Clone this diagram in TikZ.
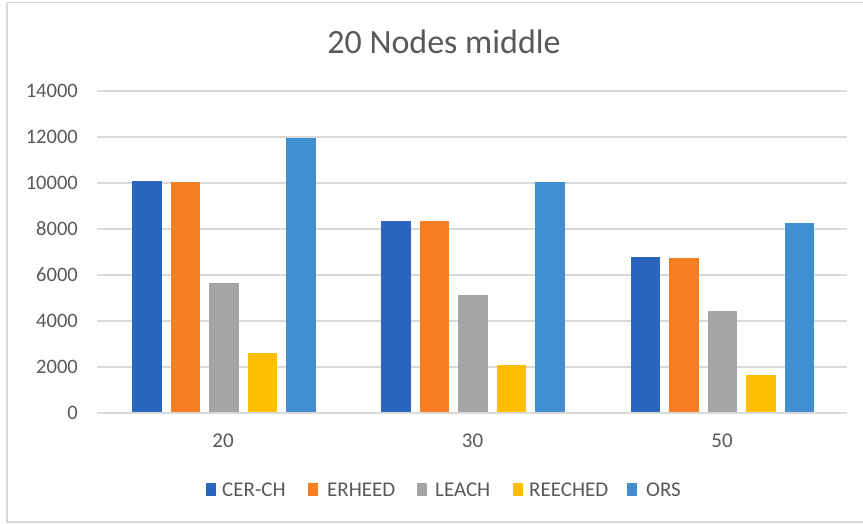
\documentclass[tikz,border=0pt]{standalone}
\usepackage{fontspec}
\setmainfont{Carlito}
\definecolor{cBlue}{HTML}{2A66BE}
\definecolor{cOrange}{HTML}{F57F22}
\definecolor{cGray}{HTML}{A5A5A5}
\definecolor{cYellow}{HTML}{FFBF00}
\definecolor{cOrs}{HTML}{418FD0}
\definecolor{txt}{HTML}{595959}
\definecolor{grid}{HTML}{D9D9D9}
\begin{document}
\begin{tikzpicture}[x=1pt,y=-1pt,
  gridline/.style={draw=grid,line width=1.5pt},
  ylab/.style={anchor=east,text=txt,font=\fontsize{20.5}{24}\selectfont,inner sep=0pt},
  xlab/.style={anchor=center,text=txt,font=\fontsize{21}{24}\selectfont,inner sep=0pt},
  legtext/.style={anchor=west,text=txt,font=\fontsize{21}{24}\selectfont,inner sep=0pt},
  legbox/.style={minimum width=10pt,minimum height=13pt,inner sep=0pt},
  bar/.style={draw=none}]
\useasboundingbox (0,0) rectangle (863,524);
\fill[white] (0,0) rectangle (863,524);
% frame
\draw[draw=grid,line width=1.5pt] (863,2.5) -| (7,522) -- (863,522);
% title
\node[text=txt,font=\fontsize{34}{40}\selectfont,inner sep=0pt] (title) at (444,42) {20 Nodes middle};
% grid and y labels
\foreach \v [count=\i from 0] in {0,2000,4000,6000,8000,10000,12000,14000} {
  \coordinate (gl\i) at (97,413-46*\i);
  \coordinate (gr\i) at (847,413-46*\i);
  \draw[gridline] (gl\i) -- (gr\i);
  \node[ylab] (yl\i) at (78,413-46*\i) {\v};
}
% bars
\foreach \g/\vals in {0/{10100,10060,5640,2620,11940},1/{8335,8335,5117,2074,10043},2/{6783,6726,4422,1670,8278}} {
  \foreach \val [count=\s from 0] in \vals {
    \pgfmathsetmacro{\xl}{132+249.3*\g+38.5*\s}
    \pgfmathsetmacro{\ht}{\val/2000*46}
    \ifcase\s \def\col{cBlue}\or \def\col{cOrange}\or \def\col{cGray}\or \def\col{cYellow}\or \def\col{cOrs}\fi
    \fill[\col] (\xl,413) rectangle ++(29.5,-\ht);
  }
}
\draw[gridline] (gl0) -- (gr0);
% category labels
\node[xlab] (c20) at (223,441) {20};
\node[xlab] (c30) at (472.5,441) {30};
\node[xlab] (c50) at (722,441) {50};
% legend
\foreach \bx/\tx/\col/\lab [count=\k] in {206/222/cBlue/CER-CH,308/327/cOrange/ERHEED,417/435/cGray/LEACH,513/529/cYellow/REECHED,627/646/cOrs/ORS} {
  \node[legbox,fill=\col,anchor=west] (lb\k) at (\bx,489.5) {};
  \node[legtext] (lt\k) at (\tx,489.5) {\lab};
}
\end{tikzpicture}
\end{document}
